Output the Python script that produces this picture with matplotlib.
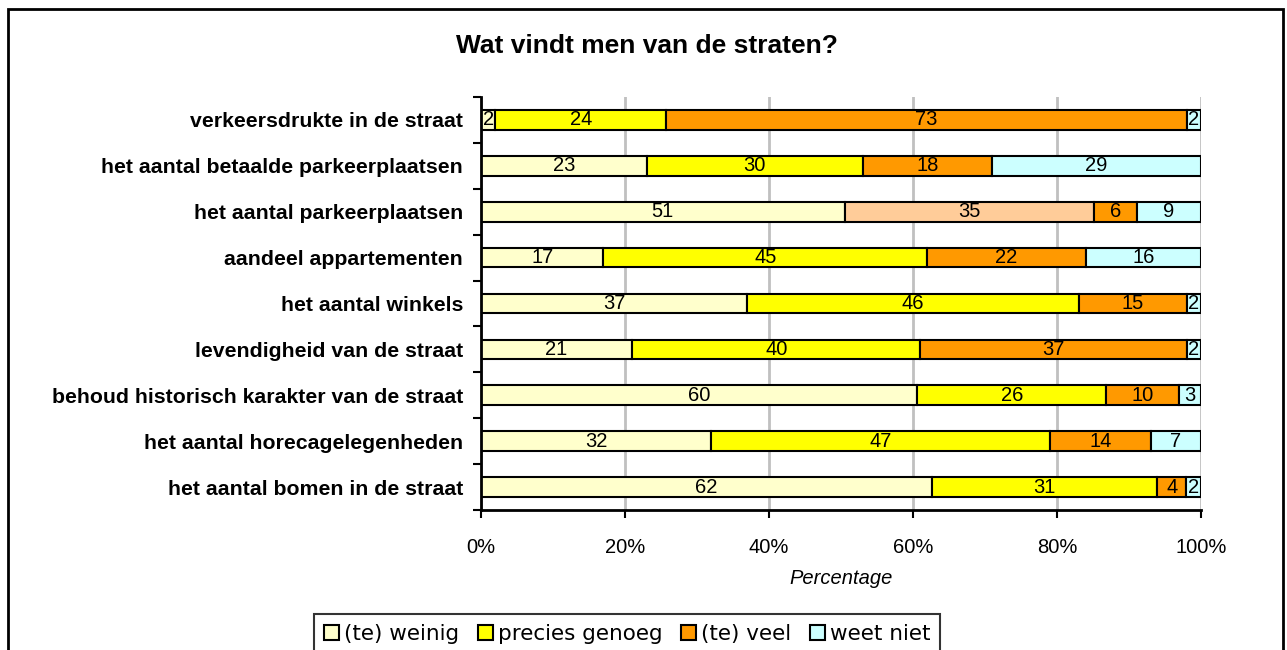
"""Stacked 100% bar chart: Wat vindt men van de straten?"""

import numpy as np
import matplotlib.pyplot as plt
from matplotlib.patches import Rectangle, Patch

categories = [
    "verkeersdrukte in de straat",
    "het aantal betaalde parkeerplaatsen",
    "het aantal parkeerplaatsen",
    "aandeel appartementen",
    "het aantal winkels",
    "levendigheid van de straat",
    "behoud historisch karakter van de straat",
    "het aantal horecagelegenheden",
    "het aantal bomen in de straat",
]
series_names = ["(te) weinig", "precies genoeg", "(te) veel", "weet niet"]
te_weinig = [2, 23, 51, 17, 37, 21, 60, 32, 62]
precies_genoeg = [24, 30, 35, 45, 46, 40, 26, 47, 31]
te_veel = [73, 18, 6, 22, 15, 37, 10, 14, 4]
weet_niet = [2, 29, 9, 16, 2, 2, 3, 7, 2]
x_ticks = [0, 20, 40, 60, 80, 100]

colors = ["#FFFFCC", "#FFFF00", "#FF9900", "#CCFFFF"]
# Excel quirk: one segment has its own colour
special_row, special_col, special_color = 2, 1, "#FFCC99"

LABEL_FONT = ["Liberation Sans", "DejaVu Sans"]

data = np.array([te_weinig, precies_genoeg, te_veel, weet_niet], dtype=float).T
pct = data / data.sum(axis=1, keepdims=True) * 100

fig = plt.figure(figsize=(12.87, 6.5), dpi=100)
ax = fig.add_axes([481 / 1287, 1 - 510 / 650, 720 / 1287, 413 / 650])

y = np.arange(len(categories))
left = np.zeros(len(categories))
for j, name in enumerate(series_names):
    cols = [colors[j]] * len(categories)
    if j == special_col:
        cols[special_row] = special_color
    ax.barh(y, pct[:, j], left=left, height=0.43, color=cols,
            edgecolor="black", linewidth=1.5, zorder=3)
    for i in range(len(categories)):
        ax.text(left[i] + pct[i, j] / 2, y[i], f"{int(data[i, j])}",
                ha="center", va="center", fontsize=14.5, family=LABEL_FONT,
                zorder=4)
    left += pct[:, j]

ax.set_xlim(0, 100)
ax.set_ylim(len(categories) - 0.5, -0.5)
ax.set_xticks(x_ticks)
ax.set_xticklabels([f"{t}%" for t in x_ticks], fontsize=14.5, family=LABEL_FONT)
ax.tick_params(axis="x", length=6, width=1.5, pad=14, direction="out")

ax.set_yticks(y)
ax.set_yticklabels(categories, fontsize=15.3, fontweight="bold", family=LABEL_FONT)
ax.set_yticks(np.arange(len(categories) + 1) - 0.5, minor=True)
ax.tick_params(axis="y", which="major", length=0, pad=13)
ax.tick_params(axis="y", which="minor", length=6, width=1.5, direction="out")

ax.grid(axis="x", color="#C0C0C0", linewidth=2, zorder=0)
for side in ["top", "right"]:
    ax.spines[side].set_visible(False)
for side in ["left", "bottom"]:
    ax.spines[side].set_linewidth(2)
    ax.spines[side].set_zorder(5)

ax.set_xlabel("Percentage", fontsize=14.5, style="italic", family=LABEL_FONT,
              labelpad=9)

fig.text(646.5 / 1287, 1 - 46 / 650, "Wat vindt men van de straten?",
         ha="center", va="center", fontsize=19, fontweight="bold",
         family=LABEL_FONT)

# legend handles use the regular series colours
leg_handles = [Patch(facecolor=c, edgecolor="black", linewidth=1.5) for c in colors]
leg = fig.legend(leg_handles, series_names, loc="upper left",
                 bbox_to_anchor=(314 / 1287, 1 - 614 / 650), ncol=4,
                 fontsize=15.5, frameon=True, fancybox=False, edgecolor="black",
                 handlelength=0.7, handleheight=0.7, handletextpad=0.25,
                 columnspacing=0.85, borderpad=0.45, borderaxespad=0)
leg.get_frame().set_linewidth(1.5)
for t in leg.get_texts():
    t.set_family("DejaVu Sans")

# outer chart border (bottom cut off, as in the reference)
fig.patches.append(Rectangle((8 / 1287, -0.1), 1275 / 1287, 1.1 - 9 / 650,
                             transform=fig.transFigure, fill=False,
                             edgecolor="black", linewidth=2))

plt.savefig("out.png", dpi=100, facecolor="white")
plt.close()
